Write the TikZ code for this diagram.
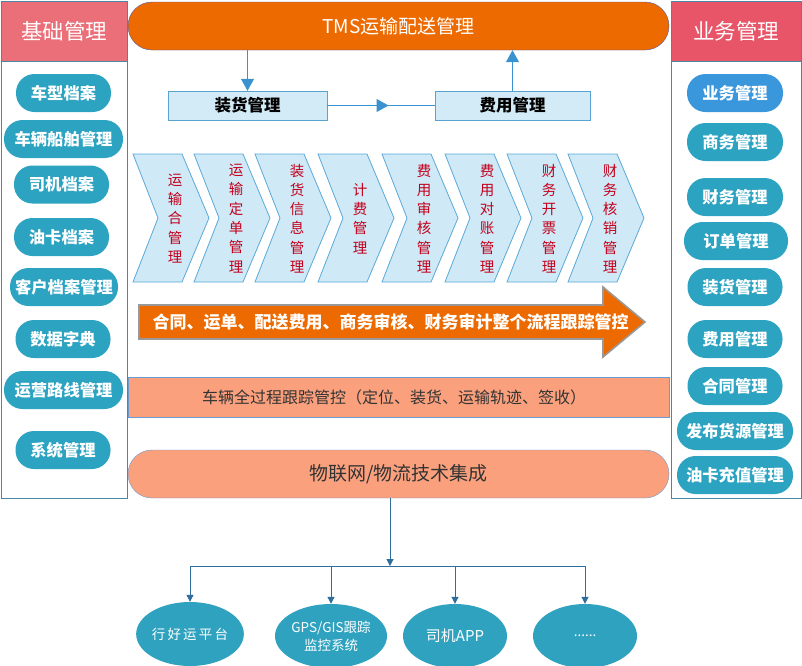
\documentclass[tikz,border=0pt]{standalone}
\usepackage{fontspec}
\setmainfont{Noto Sans CJK SC}
\usetikzlibrary{arrows.meta,decorations.markings,shapes.geometric}
\definecolor{tmsorange}{HTML}{EC6A00}
\definecolor{hdrleft}{HTML}{EB6F79}
\definecolor{hdrright}{HTML}{E85468}
\definecolor{pillc}{HTML}{2CA3C1}
\definecolor{pillblue}{HTML}{3A97DB}
\definecolor{panelline}{HTML}{4A87A3}
\definecolor{lightbox}{HTML}{D2EBF6}
\definecolor{lightline}{HTML}{5AA3D0}
\definecolor{chevfill}{HTML}{CFE9F6}
\definecolor{chevline}{HTML}{5AA9D8}
\definecolor{chevtext}{HTML}{C4001C}
\definecolor{salmon}{HTML}{FBA07D}
\definecolor{salmonline}{HTML}{6C9BD2}
\definecolor{arrblue}{HTML}{3A93CF}
\definecolor{botline}{HTML}{2F6E9C}
\definecolor{ellc}{HTML}{2EA2BF}
\begin{document}
\begin{tikzpicture}[x=1pt,y=-1pt,
  pill/.style={rectangle, rounded corners=18.5pt, fill=pillc, text=white,
    font=\fontsize{16.3}{16}\selectfont\bfseries, minimum height=38pt, inner sep=0pt},
  hdr/.style={rectangle, draw=panelline, text=white, font=\fontsize{21.5}{21}\selectfont,
    minimum width=126pt, minimum height=60pt, inner sep=0pt},
  flowbox/.style={rectangle, draw=lightline, fill=lightbox, text=black,
    font=\fontsize{16.5}{16}\selectfont\bfseries, inner sep=0pt, minimum height=29pt},
  chevron/.style={draw=chevline, fill=chevfill, line width=0.8pt},
  chevlabel/.style={align=center, text=chevtext, inner sep=0pt,
    font=\fontsize{14.5}{19.3}\selectfont},
  toparrow/.style={draw=arrblue, line width=1pt, -{Triangle[width=13pt,length=12pt]}},
  botarrow/.style={draw=botline, line width=1pt, -{Triangle[width=7pt,length=7pt]}},
  ell/.style={ellipse, fill=ellc, text=white, minimum width=104pt, minimum height=64pt,
    inner sep=0pt, align=center, font=\fontsize{13.5}{18}\selectfont}
]
\useasboundingbox (0,0) rectangle (802,665);
\fill[white] (0,0) rectangle (802,665);

% ---------- left panel ----------
\draw[panelline, line width=1pt] (1,1) rectangle (127,498);
\node[hdr, fill=hdrleft] (lh) at (64,31) {基础管理};
\node[pill, minimum width=95pt] (l1) at (63.5,93) {车型档案};
\node[pill, minimum width=119pt] (l2) at (63.5,139) {车辆船舶管理};
\node[pill, minimum width=95pt] (l3) at (61.5,184.5) {司机档案};
\node[pill, minimum width=95pt] (l4) at (61.5,237) {油卡档案};
\node[pill, minimum width=108pt] (l5) at (64,287) {客户档案管理};
\node[pill, minimum width=95pt] (l6) at (63,339) {数据字典};
\node[pill, minimum width=119pt] (l7) at (63.5,390) {运营路线管理};
\node[pill, minimum width=95pt] (l8) at (63,450) {系统管理};

% ---------- right panel ----------
\draw[panelline, line width=1pt] (671,1) rectangle (801,498);
\node[hdr, fill=hdrright, minimum width=130pt] (rh) at (736,31) {业务管理};
\node[pill, fill=pillblue, minimum width=96pt] (r1) at (735,93) {业务管理};
\node[pill, minimum width=96pt] (r2) at (735,142) {商务管理};
\node[pill, minimum width=96pt] (r3) at (735,197) {财务管理};
\node[pill, minimum width=104pt] (r4) at (736,241) {订单管理};
\node[pill, minimum width=95pt] (r5) at (735,287) {装货管理};
\node[pill, minimum width=95pt] (r6) at (735,339) {费用管理};
\node[pill, minimum width=95pt] (r7) at (735,386) {合同管理};
\node[pill, minimum width=116pt] (r8) at (735,431) {发布货源管理};
\node[pill, minimum width=116pt] (r9) at (735,475) {油卡充值管理};

% ---------- TMS bar ----------
\node[rectangle, rounded corners=24pt, draw=gray!70!blue, fill=tmsorange, text=white,
  minimum width=541pt, minimum height=48pt, inner sep=0pt,
  font=\fontsize{19}{19}\selectfont] (tms) at (398.5,26) {TMS运输配送管理};

\node[flowbox, minimum width=159pt] (zh) at (247.5,105.5) {装货管理};
\node[flowbox, minimum width=155pt] (fy) at (512.5,105.5) {费用管理};

\draw[toparrow] (tms.south -| zh) -- (zh.north);
\draw[draw=arrblue, line width=1pt, postaction={decorate},
  decoration={markings, mark=at position 0.57 with {\arrow{Triangle[width=13pt,length=12pt]}}}]
  (zh.east) -- (fy.west);
\draw[toparrow] (fy.north) -- (tms.south -| fy);

% ---------- chevrons ----------
\foreach \L/\txt [count=\i] in {133/{运\\输\\合\\管\\理}, 194/{运\\输\\定\\单\\管\\理},
   255/{装\\货\\信\\息\\管\\理}, 318/{计\\费\\管\\理}, 382/{费\\用\\审\\核\\管\\理},
   445/{费\\用\\对\\账\\管\\理}, 507/{财\\务\\开\\票\\管\\理}, 568/{财\\务\\核\\销\\管\\理}} {
  \draw[chevron] (\L,154) -- ({\L+49},154) -- ({\L+76},218) -- ({\L+49},282)
     -- (\L,282) -- ({\L+25},218) -- cycle;
  \node[chevlabel] (c\i) at ({\L+42},218.5) {\txt};
}

% ---------- big orange arrow ----------
\draw[draw=gray!80, line width=1.6pt, fill=tmsorange]
  (139,305) -- (603,305) -- (603,287) -- (645,322) -- (603,357) -- (603,339)
  -- (139,339) -- cycle;
\node[text=white, inner sep=0pt, font=\fontsize{17}{17}\selectfont\bfseries]
  (flow) at (390.5,322) {合同、运单、配送费用、商务审核、财务审计整个流程跟踪管控};

% ---------- vehicle bar ----------
\node[rectangle, draw=salmonline, fill=salmon, minimum width=541pt,
  minimum height=40pt, inner sep=0pt] (veh) at (398.5,397) {};
\node[text=black!80, inner sep=0pt, font=\fontsize{16}{16}\selectfont]
  (vehtxt) at (394,397) {车辆全过程跟踪管控（定位、装货、运输轨迹、签收）};

% ---------- IoT bar ----------
\node[rectangle, rounded corners=24pt, draw=salmonline, fill=salmon, text=black!80,
  minimum width=541pt, minimum height=48pt, inner sep=0pt,
  font=\fontsize{19}{19}\selectfont] (iot) at (398.5,474) {物联网/物流技术集成};

% ---------- bottom ----------
\coordinate (j) at (390,566);
\node[ell, font=\fontsize{13.5}{18}\selectfont\addfontfeatures{LetterSpace=16}] (e1) at (190,634) {行好运平台};
\node[ell] (e2) at (331,636) {GPS/GIS跟踪\\监控系统};
\node[ell, font=\fontsize{15}{18}\selectfont] (e3) at (455,636) {司机APP};
\node[ell] (e4) at (585,636) {......};

\draw[botarrow] (iot.south -| j) -- (j);
\draw[botarrow] (j) -| (e1.north);
\draw[botarrow] (j) -| (e2.north);
\draw[botarrow] (j) -| (e3.north);
\draw[botarrow] (j) -| (e4.north);
\end{tikzpicture}
\end{document}
